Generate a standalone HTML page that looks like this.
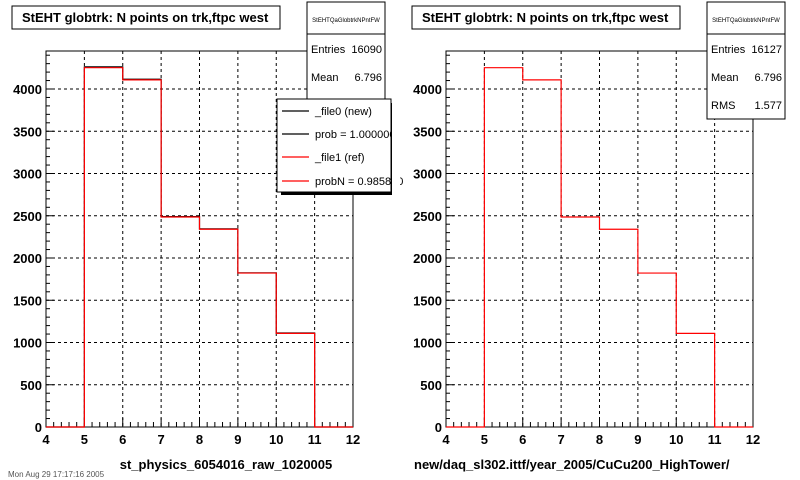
<!DOCTYPE html>
<html><head><meta charset="utf-8"><style>
body{margin:0;background:#fff;width:800px;height:480px;overflow:hidden}
svg{display:block;font-family:"Liberation Sans",Arial,sans-serif}
</style></head><body>
<svg id="c" width="800" height="480"></svg>
<script>
const binEdges=[4,5,6,7,8,9,10,11,12];
const newCounts=[0,4262,4115,2490,2345,1825,1112,0];
const refCounts=[0,4252,4108,2485,2340,1822,1108,0];
const yTicks=[0,500,1000,1500,2000,2500,3000,3500,4000];
const xTicks=[4,5,6,7,8,9,10,11,12];
const NS="http://www.w3.org/2000/svg";
const svg=document.getElementById('c');
function mk(t,a,p){const e=document.createElementNS(NS,t);for(const k in a)e.setAttribute(k,a[k]);(p||svg).appendChild(e);return e;}
function panel(ox,name,showNew,entries,rms,xtitle,xtitleX,anchor){
  const g=mk('g',{});
  
  
  const L=ox+46,R=ox+353,T=51,B=427;
  const X=v=>L+(v-4)/8*(R-L);
  const Y=v=>B-v*0.0845;
  // grid
  xTicks.slice(1,-1).forEach(v=>{const l=mk('line',{x1:X(v),x2:X(v),y1:T,y2:B,stroke:'#000','stroke-dasharray':'3,3','stroke-width':1},g);});
  yTicks.slice(1).forEach(v=>{const l=mk('line',{x1:L,x2:R,y1:Y(v),y2:Y(v),stroke:'#000','stroke-dasharray':'3,3','stroke-width':1},g);});
  // frame
  const f=mk('rect',{x:L,y:T,width:R-L,height:B-T,fill:'none',stroke:'#000'},g);
  
  // ticks
  for(let v=0;v<=4400;v+=100){const maj=v%500==0;mk('line',{x1:L,x2:L+(maj?8:4),y1:Y(v),y2:Y(v),stroke:'#000'},g);}
  for(let v=4;v<=12.001;v+=0.2){const maj=Math.abs(v-Math.round(v))<0.01;mk('line',{x1:X(v),x2:X(v),y1:B,y2:B-(maj?9:5),stroke:'#000'},g);}
  yTicks.forEach(v=>{const t=mk('text',{x:L-4,y:Y(v)+5,'text-anchor':'end','font-size':13,'font-weight':'bold'},g);t.textContent=v;});
  xTicks.forEach(v=>{const t=mk('text',{x:X(v),y:444,'text-anchor':'middle','font-size':13,'font-weight':'bold'},g);t.textContent=v;});
  function hist(arr,col,nm){
    let d='';
    for(let i=0;i<arr.length;i++){const x0=X(binEdges[i]),x1=X(binEdges[i+1]),y=Y(arr[i]);d+=(i==0?'M'+x0+','+y:'L'+x0+','+y)+'L'+x1+','+y;}
    const p=mk('path',{d:d,fill:'none',stroke:col,'stroke-width':1.2},g);
    
  }
  if(showNew)hist(newCounts,'#000','new-histogram');
  hist(refCounts,'#f00','ref-histogram');
  // title
  const tb=mk('rect',{x:ox+12,y:6,width:268,height:23,fill:'#fff',stroke:'#000'},g);
  
  const tt=mk('text',{x:ox+22,y:22,'font-size':13,'font-weight':'bold'},g);tt.textContent='StEHT globtrk: N points on trk,ftpc west';
  
  // stats box
  const sb=mk('rect',{x:ox+307,y:2,width:78,height:117,fill:'#fff',stroke:'#000'},g);
  
  mk('line',{x1:ox+307,x2:ox+385,y1:34,y2:34,stroke:'#000'},g);
  const st=mk('text',{x:ox+346,y:22,'text-anchor':'middle','font-size':6},g);st.textContent='StEHTQaGlobtrkNPntFW';
  [['Entries',entries,53],['Mean','6.796',81],['RMS',rms,109]].forEach(r=>{
    const a=mk('text',{x:ox+311,y:r[2],'font-size':11},g);a.textContent=r[0];
    const b=mk('text',{x:ox+382,y:r[2],'font-size':11,'text-anchor':'end'},g);b.textContent=r[1];
  });
  const xt=mk('text',{x:xtitleX,y:469,'font-size':13,'font-weight':'bold','text-anchor':anchor},g);xt.textContent=xtitle;
  
  return g;
}
panel(0,'left-panel',true,'16090','1.577','st_physics_6054016_raw_1020005',226,'middle');
panel(400,'right-panel',false,'16127','1.577','new/daq_sl302.ittf/year_2005/CuCu200_HighTower/',414,'start');
// legend
const lg=mk('g',{});


mk('rect',{x:281,y:103,width:112,height:92,fill:'#000'},lg);
mk('rect',{x:277,y:99,width:114,height:93,fill:'#fff',stroke:'#000'},lg);
[['_file0 (new)','#000',111],['prob = 1.000000','#000',134],['_file1 (ref)','#f00',157],['probN = 0.985870','#f00',181]].forEach(r=>{
  const e=mk('line',{x1:282,x2:309,y1:r[2],y2:r[2],stroke:r[1],'stroke-width':1.2},lg);
  
  
  const t=mk('text',{x:315,y:r[2]+4,'font-size':11},lg);t.textContent=r[0];
});
const cl=mk('rect',{x:392,y:96,width:8,height:102,fill:'#fff'});
const ft=mk('text',{x:8,y:477,'font-size':8,fill:'#555'});ft.textContent='Mon Aug 29 17:17:16 2005';


</script>
</body></html>
